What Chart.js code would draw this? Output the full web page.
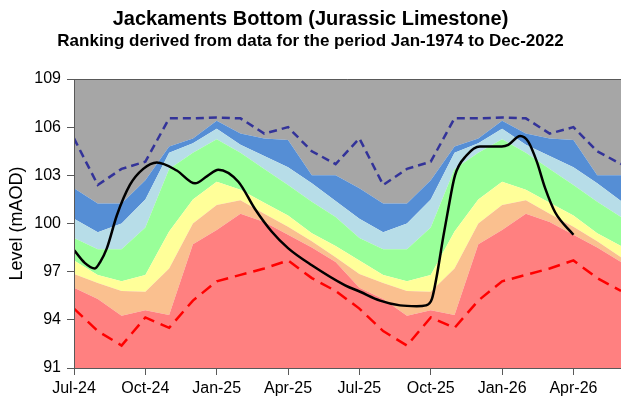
<!DOCTYPE html>
<html>
<head>
<meta charset="utf-8">
<title>Jackaments Bottom (Jurassic Limestone)</title>
<script src="https://cdn.jsdelivr.net/npm/chart.js@4/dist/chart.umd.min.js"></script>
<style>
  html, body { margin: 0; padding: 0; background: #fff; }
  #wrap { width: 621px; height: 403px; }
</style>
</head>
<body>
<div id="wrap"><canvas id="levelChart"></canvas></div>
<script>
// x is a month index: 0 = Jul-24 ... 23 = Jun-26
const months = [
  "Jul-24", "Aug-24", "Sep-24", "Oct-24", "Nov-24", "Dec-24",
  "Jan-25", "Feb-25", "Mar-25", "Apr-25", "May-25", "Jun-25",
  "Jul-25", "Aug-25", "Sep-25", "Oct-25", "Nov-25", "Dec-25",
  "Jan-26", "Feb-26", "Mar-26", "Apr-26", "May-26", "Jun-26",
];

// upper edge of each ranking band (mAOD), one value per month
const redTop = [
  96.0, 95.3, 94.25, 94.6, 94.3, 98.7, 99.6, 100.6, 100.1, 99.3, 98.5, 97.6,
  96.0, 95.3, 94.25, 94.6, 94.3, 98.7, 99.6, 100.6, 100.1, 99.3, 98.5, 97.6,
];
const orangeTop = [
  96.85, 96.3, 95.8, 95.75, 97.2, 100.0, 101.15, 101.45, 100.6, 99.8, 98.9, 97.9,
  96.85, 96.3, 95.8, 95.75, 97.2, 100.0, 101.15, 101.45, 100.6, 99.8, 98.9, 97.9,
];
const yellowTop = [
  97.7, 96.8, 96.4, 96.8, 99.5, 101.5, 102.6, 102.1, 101.3, 100.5, 99.4, 98.6,
  97.7, 96.8, 96.4, 96.8, 99.5, 101.5, 102.6, 102.1, 101.3, 100.5, 99.4, 98.6,
];
const greenTop = [
  99.1, 98.4, 98.4, 99.75, 103.4, 104.4, 105.25, 104.4, 103.4, 102.4, 101.35, 100.4,
  99.1, 98.4, 98.4, 99.75, 103.4, 104.4, 105.25, 104.4, 103.4, 102.4, 101.35, 100.4,
];
const lightBlueTop = [
  100.3, 99.45, 100.0, 101.5, 104.4, 105.0, 105.9, 104.9, 104.2, 103.5, 102.5, 101.4,
  100.3, 99.45, 100.0, 101.5, 104.4, 105.0, 105.9, 104.9, 104.2, 103.5, 102.5, 101.4,
];
const blueTop = [
  102.2, 101.25, 101.25, 102.7, 104.8, 105.3, 106.4, 105.6, 105.3, 105.2, 103.0, 103.0,
  102.2, 101.25, 101.25, 102.7, 104.8, 105.3, 106.4, 105.6, 105.3, 105.2, 103.0, 103.0,
];

// record max / min for each month
const maxLevel = [
  105.3, 102.4, 103.4, 103.85, 106.55, 106.55, 106.6, 106.55, 105.6, 106.0, 104.5, 103.7,
  105.3, 102.4, 103.4, 103.85, 106.55, 106.55, 106.6, 106.55, 105.6, 106.0, 104.5, 103.7,
];
const minLevel = [
  94.7, 93.3, 92.4, 94.15, 93.5, 95.2, 96.4, 96.8, 97.2, 97.7, 96.6, 95.8,
  94.7, 93.3, 92.4, 94.15, 93.5, 95.2, 96.4, 96.8, 97.2, 97.7, 96.6, 95.8,
];

// observed level, month index (fractional) and value
const actualMonth = [
  0, 0.45, 0.88, 1.1, 1.38, 1.8, 2.35, 2.91, 3.48, 4.32, 5.09, 5.6, 6.07,
  6.91, 7.61, 8.31, 9.01, 10.0, 11.4, 12.03, 12.87, 13.71, 14.41, 14.8,
  15.05, 15.25, 15.53, 15.7, 16.02, 16.51, 17.07, 17.99, 18.26, 18.76,
  19.1, 19.46, 19.81, 20.23, 21.0,
];
const actualLevel = [
  98.35, 97.55, 97.2, 97.6, 98.45, 100.5, 102.4, 103.4, 103.8, 103.3, 102.5, 102.95, 103.35,
  102.6, 100.9, 99.5, 98.45, 97.4, 96.15, 95.75, 95.2, 94.9, 94.85, 94.9,
  95.3, 96.7, 99.2, 100.6, 103.0, 104.25, 104.8, 104.8, 104.9, 105.45,
  105.1, 103.85, 102.2, 100.7, 99.3,
];

const axisColor = "#595959";
const fontFamily = "'Liberation Sans', Arial, sans-serif";

function monthly(values) {
  return values.map((v, i) => ({ x: i, y: v }));
}

function band(values, color, fill) {
  return {
    data: monthly(values),
    backgroundColor: color,
    borderWidth: 0,
    pointRadius: 0,
    fill: fill,
    tension: 0,
    order: 2,
  };
}

// top frame line of the plot area
const plotFrame = {
  id: "plotFrame",
  afterDraw(chart) {
    const { ctx, chartArea } = chart;
    ctx.save();
    ctx.strokeStyle = axisColor;
    ctx.lineWidth = 1;
    ctx.beginPath();
    ctx.moveTo(chartArea.left, chartArea.top + 0.5);
    ctx.lineTo(chartArea.right, chartArea.top + 0.5);
    ctx.stroke();
    ctx.restore();
  },
};

const ctx = document.getElementById("levelChart").getContext("2d");
const chart = new Chart(ctx, {
  type: "line",
  data: {
    datasets: [
      band(redTop, "#FF8080", "start"),
      band(orangeTop, "#FAC08F", "-1"),
      band(yellowTop, "#FFFF99", "-1"),
      band(greenTop, "#99FF99", "-1"),
      band(lightBlueTop, "#B7DDE8", "-1"),
      band(blueTop, "#558ED5", "-1"),
      band(blueTop, "#A6A6A6", "end"),
      {
        data: monthly(maxLevel),
        borderColor: "#333399",
        borderWidth: 2.5,
        borderDash: [8, 5],
        pointRadius: 0,
        fill: false,
        tension: 0,
        order: 1,
      },
      {
        data: monthly(minLevel),
        borderColor: "#FF0000",
        borderWidth: 2.5,
        borderDash: [12, 7],
        pointRadius: 0,
        fill: false,
        tension: 0,
        order: 1,
      },
      {
        data: actualMonth.map((m, i) => ({ x: m, y: actualLevel[i] })),
        borderColor: "#000000",
        borderWidth: 2.5,
        pointRadius: 0,
        fill: false,
        cubicInterpolationMode: "monotone",
        order: 0,
      },
    ],
  },
  options: {
    responsive: true,
    maintainAspectRatio: false,
    devicePixelRatio: 1,
    animation: false,
    layout: {
      padding: { left: 0, right: 0, top: 0, bottom: 0 },
    },
    plugins: {
      legend: { display: false },
      tooltip: { enabled: false },
      title: {
        display: true,
        text: "Jackaments Bottom (Jurassic Limestone)",
        color: "#000",
        font: { family: fontFamily, size: 20, weight: "bold" },
        padding: { top: 7, bottom: 0 },
      },
      subtitle: {
        display: true,
        text: "Ranking derived from data for the period Jan-1974 to Dec-2022",
        color: "#000",
        font: { family: fontFamily, size: 17, weight: "bold" },
        padding: { top: 0, bottom: 27.6 },
      },
    },
    scales: {
      x: {
        type: "linear",
        min: 0,
        max: 23,
        afterFit(scale) {
          scale.height = 35;
        },
        ticks: {
          stepSize: 3,
          includeBounds: false,
          autoSkip: false,
          maxRotation: 0,
          padding: 4,
          color: "#000",
          font: { family: fontFamily, size: 16 },
          callback: (value) => months[value],
        },
        grid: {
          drawOnChartArea: false,
          tickLength: 7,
          tickColor: axisColor,
        },
        border: { color: axisColor, z: 1 },
      },
      y: {
        min: 91,
        max: 109,
        afterFit(scale) {
          scale.width = 74;
        },
        ticks: {
          stepSize: 3,
          padding: 6,
          color: "#000",
          font: { family: fontFamily, size: 16 },
        },
        grid: {
          drawOnChartArea: false,
          tickLength: 7,
          tickColor: axisColor,
        },
        border: { color: axisColor, z: 1 },
        title: {
          display: true,
          text: "Level (mAOD)",
          color: "#000",
          font: { family: fontFamily, size: 18 },
          padding: { top: 6, bottom: 0 },
        },
      },
    },
  },
  plugins: [plotFrame],
});
</script>
</body>
</html>
